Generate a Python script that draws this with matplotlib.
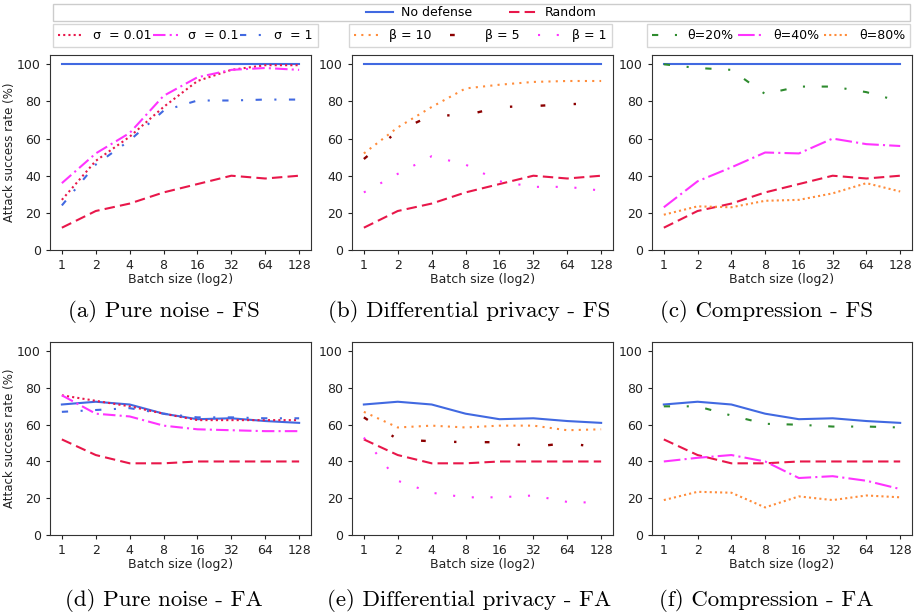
import numpy as np
import matplotlib.pyplot as plt
from matplotlib.patches import Rectangle

batch = [1, 2, 4, 8, 16, 32, 64, 128]

# FS (top row)
nodef_fs = [100, 100, 100, 100, 100, 100, 100, 100]
random_fs = [12, 21, 25, 31, 35.5, 40, 38.5, 40]
sig001_fs = [27, 48, 61, 77, 91, 97, 99.5, 99.5]
sig01_fs = [36, 52, 63, 83, 93, 97, 98, 97]
sig1_fs = [24, 46, 59, 75, 80.5, 80.5, 81, 81]
beta10_fs = [52, 66, 77, 87, 89, 90.5, 91, 91]
beta5_fs = [49, 64, 72.5, 72.5, 77, 77.5, 78.5, 79]
beta1_fs = [31, 41, 50.5, 46, 37, 34, 34, 32]
th20_fs = [100, 98, 97, 84, 88, 88, 85, 80]
th40_fs = [23, 37, 44.5, 52.5, 52, 60, 57, 56]
th80_fs = [19, 23.5, 23, 26.5, 27, 30.5, 36, 31.5]

# FA (bottom row)
nodef_fa = [71, 72.5, 71, 66, 63, 63.5, 62, 61]
random_fa = [52, 43.5, 39, 39, 40, 40, 40, 40]
sig001_fa = [76, 73, 70, 66, 62.5, 62.5, 62.5, 62.5]
sig01_fa = [76, 66, 64.5, 59.5, 57.5, 57, 56.5, 56.5]
sig1_fa = [67, 68, 69, 66, 64, 64, 63.5, 63.5]
beta10_fa = [67, 58.5, 59.5, 58.5, 59.5, 59.5, 57, 57.5]
beta5_fa = [64, 52, 51, 50.5, 50.5, 48, 50, 47.5]
beta1_fa = [53, 29.5, 23, 20.5, 20.5, 21.5, 18, 17.5]
th20_fa = [70, 70, 65, 60.5, 60, 59, 59, 58.5]
th40_fa = [40, 42, 43.5, 40, 31, 32, 29.5, 25]
th80_fa = [19, 23.5, 23, 15, 21, 19, 21.5, 20.5]

captions = ["(a) Pure noise - FS", "(b) Differential privacy - FS", "(c) Compression - FS",
            "(d) Pure noise - FA", "(e) Differential privacy - FA", "(f) Compression - FA"]

BLUE = '#4169e1'
RED = '#e8174a'
MAG = '#ff33ff'
ORANGE = '#ff8c3a'
DRED = '#8b0000'
GREEN = '#2e8b2e'

st_nodef = dict(color=BLUE, ls='-', lw=1.5)
st_rand = dict(color=RED, ls=(0, (5, 2.5)), lw=1.5)
st_s001 = dict(color=RED, ls=(0, (1, 1.5)), lw=1.5)
st_s01 = dict(color=MAG, ls=(0, (6, 2, 1, 2)), lw=1.5)
st_s1 = dict(color=BLUE, ls=(0, (3, 6, 1, 6)), lw=1.5)
st_b10 = dict(color=ORANGE, ls=(0, (1, 2.5)), lw=1.5)
st_b5 = dict(color=DRED, ls=(0, (2, 12, 1, 12)), lw=1.7)
st_b1 = dict(color=MAG, ls=(0, (1, 8)), lw=1.5)
st_t20 = dict(color=GREEN, ls=(0, (3, 8, 1, 8)), lw=1.5)
st_t40 = dict(color=MAG, ls=(0, (8, 2, 1, 2)), lw=1.5)
st_t80 = dict(color=ORANGE, ls=(0, (1, 1.5)), lw=1.5)

W, H = 914, 616
fig = plt.figure(figsize=(W / 100, H / 100), dpi=100)


def rect(l, r, top, bot):
    return [l / W, 1 - bot / H, (r - l) / W, (bot - top) / H]


def setup(ax, ylabel):
    ax.set_xlim(-0.35, 7.35)
    ax.set_ylim(0, 105)
    ax.set_xticks(range(8))
    ax.set_xticklabels([str(b) for b in batch])
    ax.set_yticks([0, 20, 40, 60, 80, 100])
    ax.tick_params(labelsize=9, length=3, colors='#222222')
    ax.set_xlabel('Batch size (log2)', fontsize=9, labelpad=1, color='#222222')
    if ylabel:
        ax.set_ylabel('Attack success rate (%)', fontsize=8.5, labelpad=1, color='#222222')
    for s in ax.spines.values():
        s.set_color('#333333')


x = np.arange(8)
cols = [(50, 311), (352, 613), (652, 912)]
rows = [(55, 250), (342, 535)]
cap_x = [164, 469, 766]

groups = [
    [(sig001_fs, st_s001), (sig01_fs, st_s01), (sig1_fs, st_s1)],
    [(beta10_fs, st_b10), (beta5_fs, st_b5), (beta1_fs, st_b1)],
    [(th20_fs, st_t20), (th40_fs, st_t40), (th80_fs, st_t80)],
    [(sig001_fa, st_s001), (sig01_fa, st_s01), (sig1_fa, st_s1)],
    [(beta10_fa, st_b10), (beta5_fa, st_b5), (beta1_fa, st_b1)],
    [(th20_fa, st_t20), (th40_fa, st_t40), (th80_fa, st_t80)],
]

for i in range(6):
    r, c = divmod(i, 3)
    ax = fig.add_axes(rect(cols[c][0], cols[c][1], rows[r][0], rows[r][1]))
    nd = nodef_fs if r == 0 else nodef_fa
    rd = random_fs if r == 0 else random_fa
    ax.plot(x, nd, **st_nodef)
    ax.plot(x, rd, **st_rand)
    for vals, st in groups[i]:
        ax.plot(x, vals, **st)
    setup(ax, c == 0)
    cy = 312 if r == 0 else 600
    fig.text(cap_x[c] / W, 1 - cy / H, captions[i],
             ha='center', va='center', fontsize=16.5, family='cmr10')

leg_font = dict(family=['Liberation Sans Narrow', 'DejaVu Sans'], size=9)

# top legend
fig.patches.append(Rectangle((53 / W, 1 - 21 / H), (910 - 53) / W, 17 / H,
                             transform=fig.transFigure, fill=False,
                             edgecolor='#cccccc', lw=1))
h1, = plt.plot([], [], **st_nodef)
h2, = plt.plot([], [], **st_rand)
fig.legend([h1, h2], ['No defense', 'Random'], loc='center',
           bbox_to_anchor=(481 / W, 1 - 12.5 / H), ncol=2, frameon=False,
           prop=leg_font, handlelength=2.2, columnspacing=3, handletextpad=0.6,
           borderpad=0)

sub_labels = [['σ  = 0.01', 'σ  = 0.1', 'σ  = 1'],
              ['β = 10', 'β = 5', 'β = 1'],
              ['θ=20%', 'θ=40%', 'θ=80%']]
sub_styles = [[st_s001, st_s01, st_s1], [st_b10, st_b5, st_b1], [st_t20, st_t40, st_t80]]
sub_boxes = [(53, 318), (349, 612), (647, 910)]
for k in range(3):
    hs = [plt.plot([], [], **s)[0] for s in sub_styles[k]]
    l, rr = sub_boxes[k]
    leg = fig.legend(hs, sub_labels[k], loc='lower left',
                     bbox_to_anchor=(l / W, 1 - 47 / H, (rr - l) / W, 22 / H),
                     mode='expand', ncol=3, prop=leg_font, handlelength=2,
                     handletextpad=0.8, borderaxespad=0, fancybox=False,
                     edgecolor='#cccccc')
    leg.get_frame().set_linewidth(1)

fig.savefig('out.png', dpi=100)
